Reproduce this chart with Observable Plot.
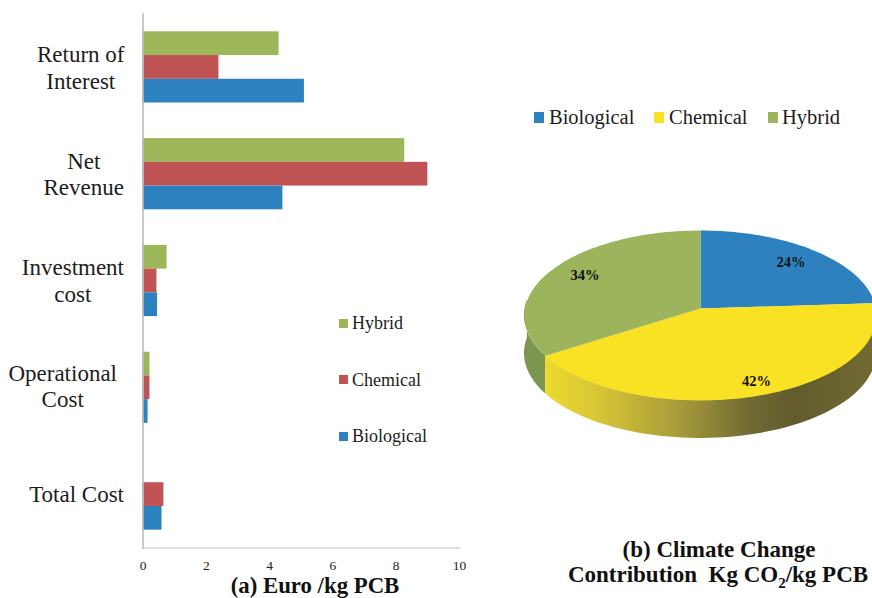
<!DOCTYPE html>
<html>
<head>
<meta charset="utf-8">
<script src="https://cdn.jsdelivr.net/npm/d3@7"></script>
<script src="https://cdn.jsdelivr.net/npm/@observablehq/plot@0.6"></script>
<style>
  html, body { margin: 0; padding: 0; background: #fff; }
  #page { position: relative; width: 872px; height: 598px; overflow: hidden; font-family: "Liberation Serif", serif; color: #1d1d1d; }
  #bars { position: absolute; left: 10px; top: 0; width: 490px; height: 598px; }
  #pie { position: absolute; left: 500px; top: 0; width: 372px; height: 598px; overflow: hidden; }
  .t { position: absolute; white-space: nowrap; line-height: 1; }
  .sw { position: absolute; }
  .cap { position: absolute; white-space: nowrap; font-weight: bold; font-size: 23px; line-height: 25px; color: #111; transform: translateX(-50%); text-align: center; }
  sub { font-size: 15px; line-height: 0; }
</style>
</head>
<body>
<div id="page"><div id="bars"></div><div id="pie"></div></div>
<script>
const categories = ["Return of\nInterest", "Net\nRevenue", "Investment\ncost", "Operational\nCost", "Total Cost"];
const seriesNames = ["Hybrid", "Chemical", "Biological"];
const hybrid = [4.3, 8.27, 0.76, 0.22, 0];
const chemical = [2.4, 9.0, 0.44, 0.22, 0.66];
const biological = [5.1, 4.42, 0.46, 0.16, 0.6];
const xTicks = [0, 2, 4, 6, 8, 10];

const pieNames = ["Biological", "Chemical", "Hybrid"];
const pieShares = [24, 42, 34];

const barColors = { Hybrid: "#9eb65a", Chemical: "#c05354", Biological: "#2e81bf" };
const pieColors = { Biological: "#2e81bf", Chemical: "#f9e224", Hybrid: "#9db45c" };

const FONT = '"Liberation Serif", serif';
const catFont = 23;
const ctx = document.createElement("canvas").getContext("2d");
ctx.font = `${catFont}px "Liberation Serif"`;
const blockWidth = c => d3.max(c.split("\n"), s => ctx.measureText(s).width);
const labelGap = [18.5, 19, 19, 26, 19];
const labelLift = [-0.5, -0.5, -1, -2, -1];

const rows = categories.flatMap((c, i) => [
  { cat: c, series: "Hybrid", value: hybrid[i] },
  { cat: c, series: "Chemical", value: chemical[i] },
  { cat: c, series: "Biological", value: biological[i] }
]);

const barPlot = Plot.plot({
  width: 490, height: 598,
  marginLeft: 132.5, marginRight: 41, marginTop: 13.5, marginBottom: 50.5,
  style: { background: "transparent", fontFamily: FONT, overflow: "visible" },
  x: { domain: [0, 10], axis: null },
  fy: { domain: categories, axis: null, padding: 0, round: false },
  y: { domain: seriesNames, axis: null, paddingInner: 0, paddingOuter: 0.75, round: false },
  marks: [
    Plot.barX(rows, { x: "value", y: "series", fy: "cat", fill: d => barColors[d.series] }),
    Plot.frame({ anchor: "left", stroke: "#bdbdbd", strokeWidth: 1.6, facet: "super" }),
    Plot.frame({ anchor: "bottom", stroke: "#bdbdbd", strokeWidth: 1.2, facet: "super" }),
    Plot.axisX({ ticks: xTicks, tickSize: 0, tickPadding: 12, fontSize: 13.5, facetAnchor: "bottom", anchor: "bottom", label: null, fill: "#222" }),
    ...categories.map((c, i) => Plot.text([c], {
      x: () => 0, fy: d => d, text: d => d, frameAnchor: "middle",
      textAnchor: "middle", lineHeight: 1.15, fontSize: catFont, fill: "#1d1d1d",
      dx: -(labelGap[i] + blockWidth(c) / 2), dy: labelLift[i]
    }))
  ]
});
document.getElementById("bars").append(barPlot);

// Projective view of a unit disc: the far side is compressed, as in the tilted pie.
const k = 0.0824, depth = 0.45;
const project = (theta, r = 1) => {
  const u = r * Math.sin(theta), v = r * Math.cos(theta), w = 1 + k * v;
  return { X: u / w, Y: v / w };
};
const arc = (a0, a1) => d3.range(0, 73).map(i => project(a0 + (a1 - a0) * i / 72));
const angles = d3.cumsum(pieShares).map(s => s / d3.sum(pieShares) * 2 * Math.PI);
const slices = pieNames.map((n, i) => ({
  name: n, share: pieShares[i], a0: i ? angles[i - 1] : 0, a1: angles[i]
}));
const labelRadius = [0.79, 0.86, 0.79];
const labelTurn = [0, -0.04, 0.03];
const labels = slices.map((s, i) => ({ ...project((s.a0 + s.a1) / 2 + labelTurn[i], labelRadius[i]), text: s.share + "%" }));

const wallGradient = () => {
  const defs = d3.create("svg:defs");
  const g = defs.append("linearGradient").attr("id", "wall").attr("x1", 0).attr("x2", 1).attr("y1", 0).attr("y2", 0);
  [[0, "#ecda30"], [0.15, "#d9c735"], [0.4, "#a89c3a"], [0.62, "#706a33"], [0.75, "#615b2e"], [1, "#716b32"]]
    .forEach(([o, c]) => g.append("stop").attr("offset", o).attr("stop-color", c));
  return defs.node();
};

const yellow = slices[1];
const wallYellow = arc(Math.PI / 2 - 0.05, yellow.a1);
const wallGreen = arc(yellow.a1, 1.5 * Math.PI + 0.1);

const piePlot = Plot.plot({
  width: 372, height: 598, margin: 0,
  style: { background: "transparent", fontFamily: FONT },
  x: { domain: [-200 / 175.4, 172 / 175.4], axis: null },
  y: { domain: [-290 / 84.4, 308 / 84.4], axis: null },
  marks: [
    wallGradient,
    Plot.area(wallGreen, { x1: "X", y1: "Y", y2: d => d.Y - depth, fill: "#7d9650", curve: "linear" }),
    Plot.area(wallYellow, { x1: "X", y1: "Y", y2: d => d.Y - depth, fill: "url(#wall)", curve: "linear" }),
    ...slices.map(s => Plot.line(
      [{ X: 0, Y: 0 }, ...arc(s.a0, s.a1), { X: 0, Y: 0 }],
      { x: "X", y: "Y", fill: pieColors[s.name], stroke: "none" }
    )),
    Plot.text(labels, { x: "X", y: "Y", text: "text", fontSize: 14.5, fontWeight: "bold", fill: "#111" })
  ]
});
document.getElementById("pie").append(piePlot);

const page = document.getElementById("page");
const addText = (txt, x, cy, size, spacing = 0) => {
  const el = document.createElement("div");
  el.className = "t"; el.textContent = txt;
  el.style.cssText = `left:${x}px;top:${cy}px;font-size:${size}px;letter-spacing:${spacing}px;transform:translateY(-50%)`;
  page.append(el);
};
const addSwatch = (color, x, cy, s) => {
  const el = document.createElement("div");
  el.className = "sw";
  el.style.cssText = `left:${x}px;top:${cy - s / 2}px;width:${s}px;height:${s}px;background:${color}`;
  page.append(el);
};
// legend of the bars
seriesNames.forEach((n, i) => {
  const cy = [323, 379.5, 436][i];
  addSwatch(barColors[n], 339, cy, 9);
  addText(n, 352, cy, 18);
});
// legend of the pie
pieNames.forEach((n, i) => {
  addSwatch(pieColors[n], [533.5, 653.5, 767.5][i], 117.5, 10.5);
  addText(n, [549, 669, 782][i], 117, 20.5);
});
const cap = (html, cx, top, size, lh) => {
  const el = document.createElement("div");
  el.className = "cap"; el.innerHTML = html;
  el.style.left = cx + "px"; el.style.top = top + "px";
  if (size) el.style.fontSize = size + "px";
  if (lh) el.style.lineHeight = lh + "px";
  page.append(el);
};
cap("(a) Euro /kg PCB", 315, 575.5, 22.8, 20);
cap("(b) Climate Change", 719, 537);
cap("Contribution&nbsp; Kg CO<sub>2</sub>/kg PCB", 718, 562);
</script>
</body>
</html>
